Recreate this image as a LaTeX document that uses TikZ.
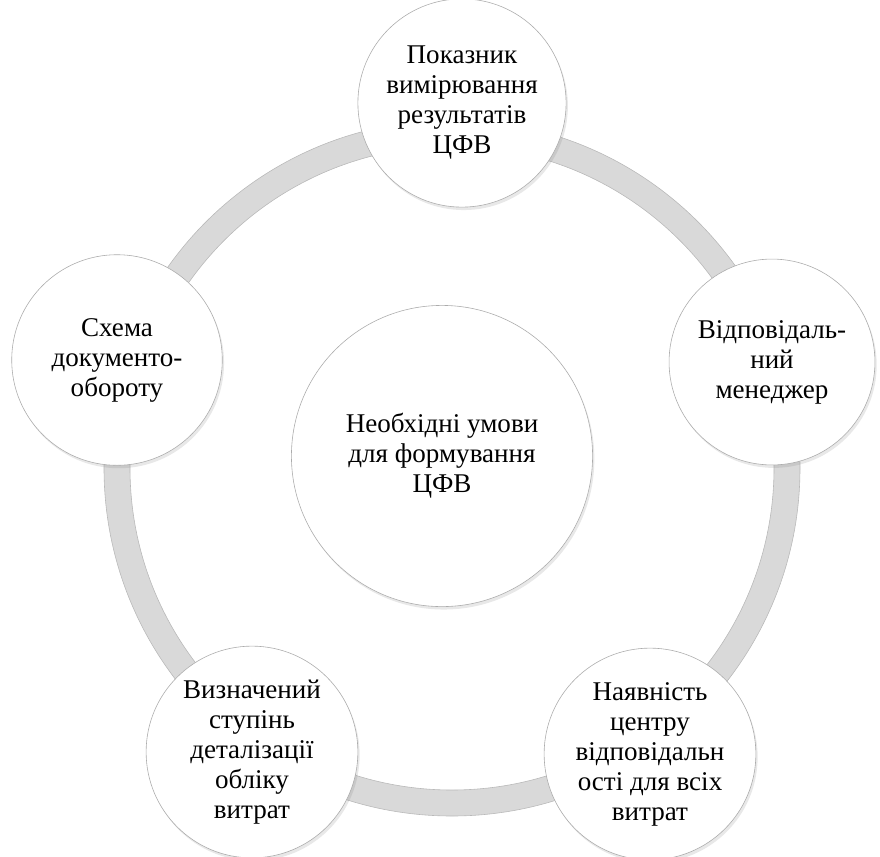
\documentclass[tikz,border=0pt]{standalone}
\usepackage{fontspec}
\setmainfont{Liberation Serif}
\usetikzlibrary{shapes,positioning,shadows,shadings}

\definecolor{ringgray}{HTML}{D9D9D9}
\pgfdeclareradialshading{bead}{\pgfpoint{0bp}{0bp}}{color(0bp)=(white); color(37bp)=(white); color(45bp)=(gray!6); color(48.5bp)=(gray!20); color(50bp)=(gray!45)}

\tikzset{
  cond/.style={circle, shading=bead, draw=gray!65, line width=0.5pt, align=center, inner sep=0pt,
    drop shadow={opacity=0.18, shadow xshift=1.5pt, shadow yshift=-2.5pt},
    font=\fontsize{23}{25.5}\selectfont},
  ring/.style={fill=ringgray, draw=gray!55, line width=0.5pt},
}

\begin{document}
\begin{tikzpicture}[x=0.85pt, y=-0.85pt]
    \useasboundingbox (0,0) rectangle (880,856);

    % cycle ring behind the circles
    \draw[ring, even odd rule] (452,468) circle[radius=348] (452,468) circle[radius=322];

    \node[cond, minimum size=256pt] (hub) at (442,456) {Необхідні умови\\для формування\\ЦФВ};

    \node[cond, minimum size=177pt] (kpi) at (462,103) {Показник\\вимірювання\\результатів\\ЦФВ};
    \node[cond, minimum size=175pt] (mgr) at (772,362) {Відповідаль-\\ний\\менеджер};
    \node[cond, minimum size=180pt] (resp) at (650,754) {Наявність\\центру\\відповідальн\\ості для всіх\\витрат};
    \node[cond, minimum size=180pt] (detail) at (252,752) {Визначений\\ступінь\\деталізації\\обліку\\витрат};
    \node[cond, minimum size=179pt] (docs) at (117,360) {Схема\\документо-\\обороту};

\end{tikzpicture}
\end{document}
